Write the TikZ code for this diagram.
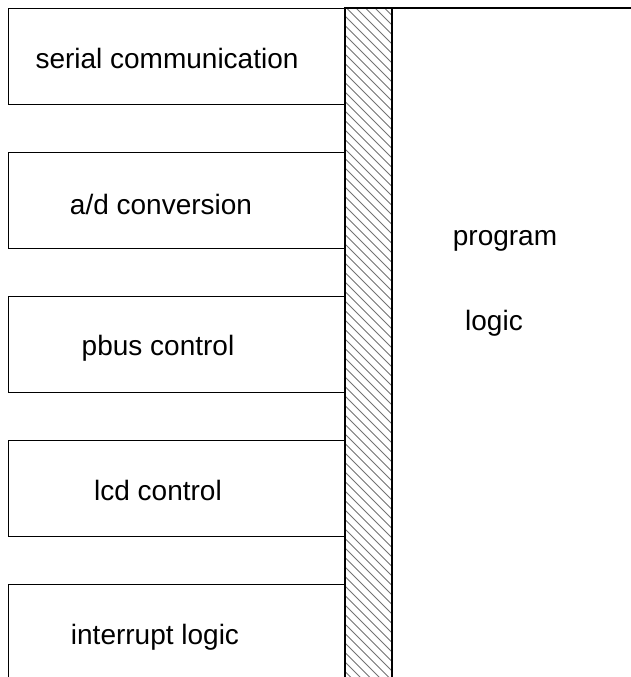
\documentclass[tikz,border=0pt]{standalone}
\usepackage{fontspec}
\setmainfont{Liberation Sans}
\usetikzlibrary{positioning}
\tikzset{
  unit/.style={draw, line width=0.6pt, minimum width=168.5pt, minimum height=48pt,
    inner sep=0pt, anchor=north west},
  txt/.style={inner sep=0pt, font=\fontsize{14}{17}\selectfont}}
\newcommand{\hatchstep}{9.5}
\begin{document}
\begin{tikzpicture}[x=0.5pt, y=-0.5pt]
\useasboundingbox (0,0) rectangle (631,677);
% units on the left
\node[unit] (serial) at (8,8) {};
\node[unit] (adconv) at (8,152) {};
\node[unit] (pbus) at (8,296) {};
\node[unit] (lcd) at (8,440) {};
\node[unit] (intr) at (8,584) {};
\node[txt] (serialtxt) at (167,58) {serial communication};
\node[txt] (adconvtxt) at (161,204) {a/d conversion};
\node[txt] (pbustxt) at (158,348) {pbus control};
\node[txt] (lcdtxt) at (158,490) {lcd control};
\node[txt] (intrtxt) at (155,637) {interrupt logic};
% hatched bus
\begin{scope}
\clip (345,8) rectangle (392,700);
\foreach \c in {-60,-50.5,...,700}{%
  \draw[black!55, line width=0.4pt] (345,\c) -- (392,{\c+47});}
\end{scope}
\draw[line width=0.6pt] (345,700) -- (345,8) -- (392,8) -- (392,700);
% program logic
\draw[line width=0.6pt] (392,8) -- (631,8);
\node[txt] (prog) at (505,241) {program};
\node[txt] (logic) at (494,323) {logic};
\end{tikzpicture}
\end{document}
